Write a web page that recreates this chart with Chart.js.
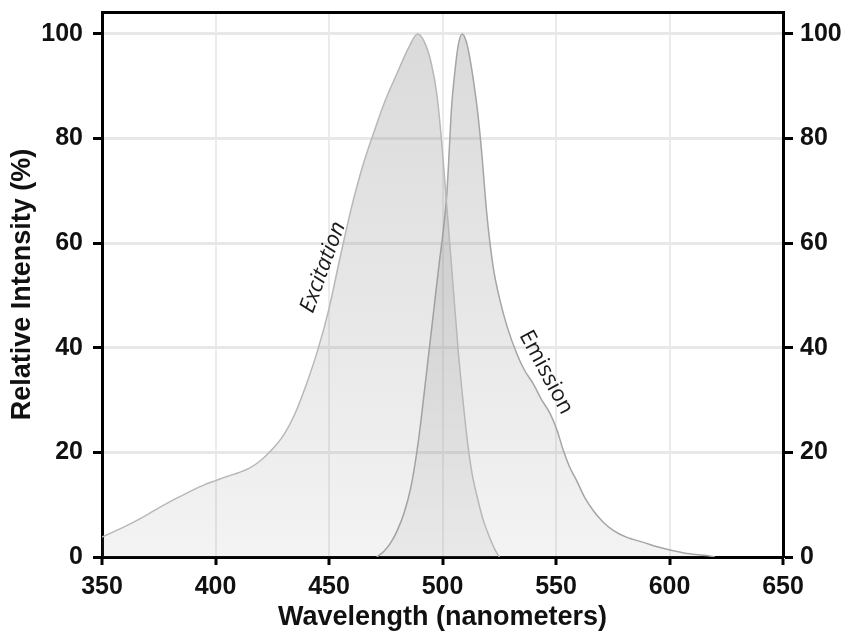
<!DOCTYPE html>
<html>
<head>
<meta charset="utf-8">
<script src="https://cdn.jsdelivr.net/npm/chart.js/dist/chart.umd.min.js"></script>
<style>
    html, body { margin: 0; padding: 0; background: #fff; }
    #wrap { width: 848px; height: 634px; }
</style>
</head>
<body>
<div id="wrap"><canvas id="spectra" width="848" height="634"></canvas></div>
<script>
    // Datos: longitud de onda (nm) e intensidad relativa (%)
    const excitationWl  = [350, 355, 360, 365, 370, 375, 380, 385, 390, 395, 400, 405, 410, 415, 420, 425, 430, 435, 440, 445, 450, 455, 460, 465, 470, 475, 480, 485, 489, 492, 495, 497.5, 499.5, 501, 503, 505, 507, 509, 511, 513, 515, 518, 521, 523, 525];
    const excitationVal = [3.8, 4.8, 5.8, 6.9, 8.1, 9.4, 10.6, 11.7, 12.8, 13.8, 14.6, 15.4, 16.1, 17.0, 18.5, 20.6, 23.3, 27.4, 33, 39.5, 47.5, 57.5, 67, 75, 81.5, 87.5, 92.5, 97.3, 100, 98.5, 94.5, 88.5, 80, 72, 61, 50, 39, 30, 22, 16, 12, 7, 3.5, 1.5, 0];
    const emissionWl  = [471, 474, 477, 480, 483, 486, 488.5, 490.5, 492.5, 494.5, 496.5, 498.5, 500.5, 502, 503, 504, 505.5, 507, 508.7, 510.5, 512, 514, 515.5, 517.3, 519.5, 522.3, 525.3, 528.5, 532.7, 536, 540, 543.5, 547.4, 550.5, 553.2, 556, 559.1, 562.5, 566.4, 570.5, 575.2, 581, 588.5, 595, 601.7, 609, 616.4, 620];
    const emissionVal = [0, 1.0, 2.6, 5.0, 8.3, 13.2, 19.5, 26, 33.5, 41, 48.5, 56, 63, 70, 78, 86, 93, 98, 100, 98.5, 95.5, 90, 85, 77.2, 65.7, 55.5, 49.1, 44, 38.9, 35.8, 33.1, 30.2, 27.4, 24.2, 20.4, 17.2, 14.6, 11.5, 8.9, 6.8, 5.1, 3.8, 2.8, 1.9, 1.2, 0.6, 0.3, 0];
    const xTicks = [350, 400, 450, 500, 550, 600, 650];
    const yTicks = [0, 20, 40, 60, 80, 100];
    const curveNames = ['Excitation', 'Emission'];

    const toPoints = (xs, ys) => xs.map((x, i) => ({x: x, y: ys[i]}));

    // Relleno gris con degradado vertical
    function grayFill(context) {
        const area = context.chart.chartArea;
        if (!area) return 'rgba(140,140,140,0.2)';
        const g = context.chart.ctx.createLinearGradient(0, area.top, 0, area.bottom);
        g.addColorStop(0, 'rgba(140,140,140,0.33)');
        g.addColorStop(1, 'rgba(140,140,140,0.10)');
        return g;
    }

    // Etiquetas giradas sobre las curvas
    const curveLabels = {
        id: 'curveLabels',
        afterDatasetsDraw(chart) {
            const {ctx, scales} = chart;
            const items = [
                {text: curveNames[0], x: 447.4, y: 55.4, rot: -70, font: 'italic 22px "Open Sans"'},
                {text: curveNames[1], x: 545.6, y: 35.3, rot: 62, font: '22px "Open Sans"'}
            ];
            items.forEach(it => {
                ctx.save();
                ctx.translate(scales.x.getPixelForValue(it.x), scales.y.getPixelForValue(it.y));
                ctx.rotate(it.rot * Math.PI / 180);
                ctx.font = it.font;
                ctx.fillStyle = '#1a1a1a';
                ctx.textAlign = 'center';
                ctx.textBaseline = 'middle';
                ctx.fillText(it.text, 0, 0);
                ctx.restore();
            });
        }
    };

    const keepTicks = list => scale => {
        scale.ticks = list.map(v => ({value: v}));
    };

    // Tamaño fijo de cada eje, sin relleno extra para las etiquetas
    const fixSize = (w, h) => s => {
        if (w !== null) s.width = w;
        if (h !== null) s.height = h;
        s.paddingTop = 0;
        s.paddingBottom = 0;
        s.paddingLeft = 0;
        s.paddingRight = 0;
    };

    const tickFont = {family: 'Liberation Sans', size: 25, weight: 'bold'};
    const titleFont = {family: 'Liberation Sans', size: 27, weight: 'bold'};

    const config = {
        type: 'line',
        data: {
            datasets: [
                {
                    label: curveNames[0],
                    data: toPoints(excitationWl, excitationVal),
                    borderColor: '#b8b8b8',
                    borderWidth: 1.5,
                    backgroundColor: grayFill,
                    fill: 'origin',
                    pointRadius: 0,
                    cubicInterpolationMode: 'monotone'
                },
                {
                    label: curveNames[1],
                    data: toPoints(emissionWl, emissionVal),
                    borderColor: '#a5a5a5',
                    borderWidth: 1.5,
                    backgroundColor: grayFill,
                    fill: 'origin',
                    pointRadius: 0,
                    cubicInterpolationMode: 'monotone'
                }
            ]
        },
        plugins: [curveLabels],
        options: {
            responsive: false,
            animation: false,
            layout: {padding: 0},
            plugins: {
                legend: {display: false},
                tooltip: {enabled: false}
            },
            scales: {
                x: {
                    type: 'linear',
                    position: 'bottom',
                    min: 350,
                    max: 650,
                    afterBuildTicks: keepTicks(xTicks),
                    afterFit: fixSize(null, 77),
                    ticks: {font: tickFont, color: '#111', padding: 7, maxRotation: 0},
                    grid: {color: '#ebebeb', lineWidth: 2, tickColor: '#000', tickWidth: 3, tickLength: 8},
                    border: {color: '#000', width: 3},
                    title: {display: true, text: 'Wavelength (nanometers)', font: titleFont, color: '#111', padding: {top: 0, bottom: 0}}
                },
                xTop: {
                    type: 'linear',
                    position: 'top',
                    min: 350,
                    max: 650,
                    afterFit: fixSize(null, 12),
                    ticks: {display: false},
                    grid: {display: false},
                    border: {color: '#000', width: 3}
                },
                y: {
                    position: 'left',
                    min: 0,
                    max: 104.2,
                    afterBuildTicks: keepTicks(yTicks),
                    afterFit: fixSize(102, null),
                    ticks: {font: tickFont, color: '#111', padding: 10},
                    grid: {color: '#e8e8e8', lineWidth: 3, tickColor: '#000', tickWidth: 3, tickLength: 9},
                    border: {color: '#000', width: 3},
                    title: {display: true, text: 'Relative Intensity (%)', font: titleFont, color: '#111', padding: {top: 6, bottom: 0}}
                },
                y2: {
                    position: 'right',
                    min: 0,
                    max: 104.2,
                    afterBuildTicks: keepTicks(yTicks),
                    afterFit: fixSize(65, null),
                    ticks: {font: tickFont, color: '#111', padding: 7},
                    grid: {drawOnChartArea: false, tickColor: '#000', tickWidth: 3, tickLength: 10},
                    border: {color: '#000', width: 3}
                }
            }
        }
    };

    const spectraChart = new Chart(document.getElementById('spectra').getContext('2d'), config);
</script>
</body>
</html>
